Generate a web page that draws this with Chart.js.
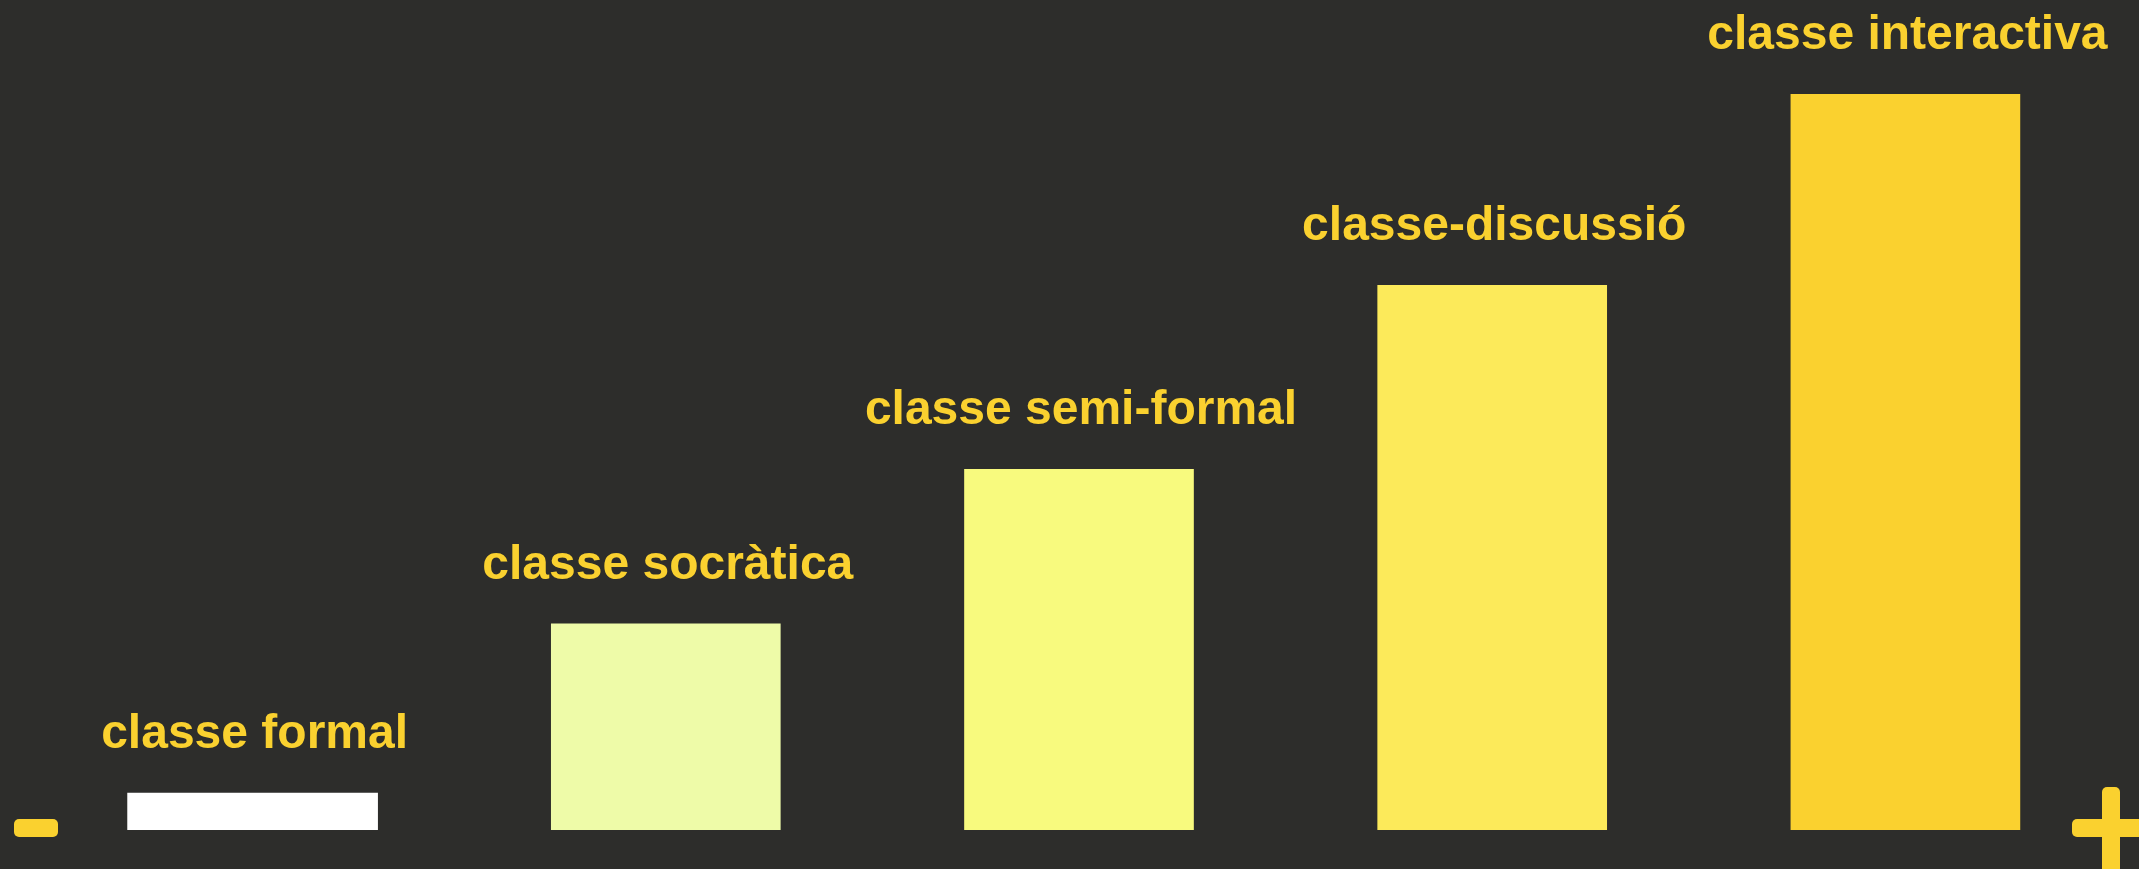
<!DOCTYPE html>
<html>
<head>
<meta charset="utf-8">
<script src="https://cdn.jsdelivr.net/npm/chart.js@4/dist/chart.umd.min.js"></script>
<style>
    html, body { margin: 0; padding: 0; background: #2d2d2b; overflow: hidden; }
    canvas { display: block; }
</style>
</head>
<body>
<canvas id="classChart" width="2139" height="869"></canvas>
<script>
const categories = ['classe formal', 'classe socràtica', 'classe semi-formal', 'classe-discussió', 'classe interactiva'];
const values = [5, 28, 49, 74, 100];
const barColors = ['#ffffff', '#eefba8', '#f8fa7e', '#fcea5a', '#fad12f'];

const labelColor = '#fad12f';

// draws the category name above each bar + the -/+ marks at the bottom corners
const barLabels = {
    id: 'barLabels',
    afterDatasetsDraw(chart) {
        const c = chart.ctx;
        c.save();
        c.fillStyle = labelColor;
        c.font = 'bold 48px "Liberation Sans", Arial, sans-serif';
        c.textAlign = 'center';
        c.textBaseline = 'alphabetic';
        chart.data.datasets.forEach((ds, di) => {
            chart.getDatasetMeta(di).data.forEach((bar, i) => {
                if (ds.data[i] == null) return;
                c.fillText(categories[i], bar.x + 2, bar.y - 45);
            });
        });

        // minus
        c.beginPath();
        c.roundRect(14, 819, 44, 18, 5);
        c.fill();
        // plus
        c.beginPath();
        c.roundRect(2072, 819, 90, 18, 5);
        c.fill();
        c.beginPath();
        c.roundRect(2102, 787, 18, 100, 5);
        c.fill();
        c.restore();
    }
};

const firstOnly = values.map((v, i) => i === 0 ? v : null);
const rest = values.map((v, i) => i === 0 ? null : v);

const ctx = document.getElementById('classChart').getContext('2d');
const classChart = new Chart(ctx, {
    type: 'bar',
    data: {
        labels: categories,
        datasets: [{
            data: firstOnly,
            backgroundColor: barColors,
            barThickness: 250,
            grouped: false,
        }, {
            data: rest,
            backgroundColor: barColors,
            barThickness: 229,
            grouped: false,
        }]
    },
    options: {
        responsive: false,
        animation: false,
        layout: {
            padding: { left: 46, right: 27, top: 94, bottom: 39 }
        },
        scales: {
            x: { display: false },
            y: { display: false, min: 0, max: 100 }
        },
        plugins: {
            legend: { display: false },
            tooltip: { enabled: false }
        }
    },
    plugins: [barLabels]
});
</script>
</body>
</html>
